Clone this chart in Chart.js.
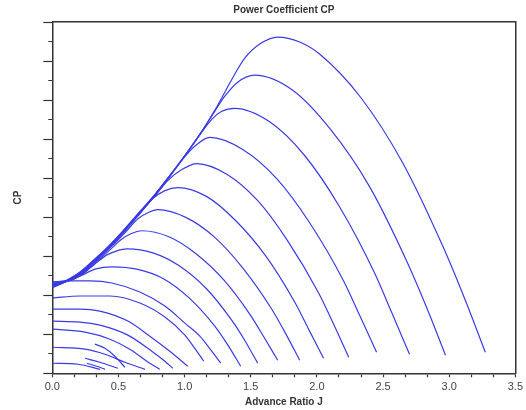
<!DOCTYPE html>
<html>
<head>
<meta charset="utf-8">
<script src="https://cdn.jsdelivr.net/npm/chart.js@4.4.1/dist/chart.umd.min.js"></script>
<style>
  body { margin: 0; background: #fff; }
  #wrap { width: 526px; height: 410px; }
</style>
</head>
<body>
<div id="wrap"><canvas id="cpChart" width="526" height="410"></canvas></div>
<script>
// Power coefficient CP against advance ratio J, one curve per blade setting ([J, CP] pairs)
const curve01 = [[0, 0.0129], [0.194, 0.0116], [0.36, 0.0051]];
const curve02 = [[0.262, 0.0129], [0.337, 0.009], [0.398, 0.0051]];
const curve03 = [[0.247, 0.0193], [0.36, 0.0141], [0.496, 0.0064]];
const curve04 = [[0.322, 0.0373], [0.398, 0.0321], [0.473, 0.0219], [0.549, 0.0077]];
const curve05 = [[0, 0.0334], [0.247, 0.0309], [0.398, 0.0244], [0.549, 0.0141], [0.7, 0.0051]];
const curve06 = [[0, 0.0566], [0.247, 0.0527], [0.436, 0.0437], [0.586, 0.0309], [0.737, 0.0129], [0.813, 0.0051]];
const curve07 = [[0, 0.0669], [0.209, 0.0656], [0.36, 0.0617], [0.571, 0.0489], [0.752, 0.0283], [0.851, 0.0154], [0.911, 0.0064]];
const curve08 = [[0, 0.0823], [0.209, 0.0823], [0.36, 0.0797], [0.571, 0.0669], [0.737, 0.0476], [0.888, 0.0283], [1.024, 0.009]];
const curve09 = [[0, 0.0964], [0.209, 0.099], [0.436, 0.099], [0.662, 0.09], [0.851, 0.072], [1.002, 0.0489], [1.092, 0.0283], [1.145, 0.0154]];
const curve10 = [[0, 0.117], [0.134, 0.1183], [0.285, 0.1183], [0.451, 0.1157], [0.662, 0.1041], [0.851, 0.0861], [1.002, 0.0643], [1.115, 0.0476], [1.205, 0.0283], [1.273, 0.0129]];
const curve11 = [[0, 0.117], [0.096, 0.1183], [0.209, 0.1247], [0.33, 0.1337], [0.451, 0.1363], [0.647, 0.1331], [0.843, 0.1209], [1.032, 0.0969], [1.228, 0.0604], [1.326, 0.0364], [1.424, 0.009]];
const curve12 = [[0, 0.1157], [0.096, 0.117], [0.209, 0.1247], [0.322, 0.1401], [0.413, 0.1517], [0.488, 0.1569], [0.564, 0.1594], [0.76, 0.1543], [0.956, 0.1381], [1.16, 0.1093], [1.356, 0.0681], [1.454, 0.0424], [1.553, 0.0129]];
const curve13 = [[0, 0.1144], [0.096, 0.117], [0.209, 0.1247], [0.322, 0.1414], [0.436, 0.1581], [0.519, 0.171], [0.594, 0.1787], [0.677, 0.1826], [0.881, 0.1749], [1.084, 0.1535], [1.296, 0.1196], [1.5, 0.0739], [1.598, 0.0468], [1.704, 0.0167]];
const curve14 = [[0, 0.1144], [0.096, 0.117], [0.209, 0.126], [0.322, 0.1427], [0.436, 0.1607], [0.549, 0.18], [0.647, 0.198], [0.722, 0.2057], [0.798, 0.2096], [1.009, 0.1997], [1.228, 0.1741], [1.439, 0.135], [1.658, 0.0823], [1.764, 0.0508], [1.87, 0.0167]];
const curve15 = [[0, 0.1131], [0.096, 0.117], [0.209, 0.1273], [0.322, 0.144], [0.436, 0.162], [0.549, 0.1826], [0.662, 0.2044], [0.76, 0.2237], [0.851, 0.234], [0.949, 0.2379], [1.168, 0.2263], [1.387, 0.1954], [1.613, 0.1504], [1.832, 0.0913], [1.937, 0.0566], [2.05, 0.0193]];
const curve16 = [[0, 0.1119], [0.096, 0.117], [0.209, 0.1273], [0.322, 0.1446], [0.436, 0.1626], [0.549, 0.1832], [0.662, 0.205], [0.775, 0.2269], [0.873, 0.2469], [0.979, 0.261], [1.092, 0.2687], [1.319, 0.2551], [1.553, 0.2211], [1.779, 0.1697], [2.013, 0.1029], [2.126, 0.063], [2.24, 0.0206]];
const curve17 = [[0, 0.1119], [0.096, 0.117], [0.209, 0.1286], [0.322, 0.1453], [0.436, 0.1633], [0.549, 0.1838], [0.662, 0.2057], [0.775, 0.2276], [0.888, 0.252], [1.002, 0.2777], [1.092, 0.2931], [1.19, 0.3021], [1.439, 0.2867], [1.696, 0.2494], [1.945, 0.1929], [2.202, 0.1183], [2.322, 0.0746], [2.451, 0.027]];
const curve18 = [[0, 0.1106], [0.096, 0.117], [0.209, 0.1292], [0.322, 0.1459], [0.436, 0.1639], [0.549, 0.1845], [0.662, 0.2063], [0.775, 0.2282], [0.888, 0.2526], [1.002, 0.2784], [1.115, 0.3054], [1.205, 0.3253], [1.281, 0.3356], [1.379, 0.3394], [1.643, 0.3221], [1.907, 0.279], [2.171, 0.2134], [2.436, 0.1286], [2.564, 0.0784], [2.7, 0.0244]];
const curve19 = [[0, 0.1106], [0.096, 0.1183], [0.209, 0.1299], [0.322, 0.1466], [0.436, 0.1646], [0.549, 0.1851], [0.662, 0.207], [0.775, 0.2289], [0.888, 0.2533], [1.002, 0.279], [1.115, 0.306], [1.228, 0.3356], [1.304, 0.3549], [1.401, 0.3729], [1.53, 0.3819], [1.817, 0.3626], [2.103, 0.3124], [2.398, 0.2391], [2.685, 0.1414], [2.828, 0.0849], [2.972, 0.0231]];
const curve20 = [[0, 0.1093], [0.096, 0.117], [0.209, 0.1286], [0.322, 0.1453], [0.436, 0.1646], [0.549, 0.1851], [0.662, 0.207], [0.775, 0.2289], [0.888, 0.2533], [1.002, 0.279], [1.115, 0.306], [1.228, 0.3369], [1.304, 0.36], [1.379, 0.3831], [1.455, 0.4037], [1.568, 0.4217], [1.704, 0.4307], [1.87, 0.4243], [2.02, 0.4089], [2.33, 0.3536], [2.647, 0.27], [2.957, 0.1607], [3.115, 0.0964], [3.273, 0.027]];

const allCurves = [curve01, curve02, curve03, curve04, curve05, curve06, curve07, curve08, curve09, curve10,
    curve11, curve12, curve13, curve14, curve15, curve16, curve17, curve18, curve19, curve20];

const xTickLabels = ['0.0', '0.5', '1.0', '1.5', '2.0', '2.5', '3.0', '3.5'];

const lineColor = '#3b3be3';
const axisColor = '#333333';

Chart.defaults.font.family = "'Liberation Sans', Arial, sans-serif";

function isMultiple(value, step) {
    const k = value / step;
    return Math.abs(k - Math.round(k)) < 1e-6;
}

function xLabel(value) {
    if (!isMultiple(value, 0.5)) return '';
    return xTickLabels[Math.round(value / 0.5)];
}

const datasets = allCurves.map(function (curve, i) {
    return {
        label: 'curve ' + (i + 1),
        data: curve.map(p => ({ x: p[0], y: p[1] })),
        showLine: true,
        borderColor: lineColor,
        borderWidth: 1.2,
        pointRadius: 0,
        fill: false,
        cubicInterpolationMode: 'monotone'
    };
});

new Chart(document.getElementById('cpChart'), {
    type: 'scatter',
    data: { datasets: datasets },
    options: {
        responsive: false,
        animation: false,
        devicePixelRatio: 1,
        layout: { padding: { left: 4, right: 2, top: 0, bottom: 0 } },
        plugins: {
            legend: { display: false },
            tooltip: { enabled: false },
            title: {
                display: true,
                text: 'Power Coefficient CP',
                color: axisColor,
                fullSize: false,
                font: { size: 10, weight: 'bold' },
                padding: { top: 4, bottom: -2 }
            }
        },
        scales: {
            x: {
                type: 'linear',
                position: 'bottom',
                min: 0,
                max: 3.5,
                ticks: {
                    stepSize: 1 / 6,
                    autoSkip: false,
                    maxRotation: 0,
                    minRotation: 0,
                    padding: 3,
                    color: '#444',
                    font: { size: 11 },
                    callback: xLabel
                },
                grid: {
                    drawOnChartArea: false,
                    drawTicks: true,
                    tickLength: 4,
                    tickColor: axisColor,
                    tickWidth: 1.2
                },
                border: { display: true, color: axisColor, width: 1.5 },
                title: {
                    display: true,
                    text: 'Advance Ratio J',
                    color: axisColor,
                    font: { size: 10, weight: 'bold' },
                    padding: { top: 0, bottom: 1.5 }
                }
            },
            y: {
                type: 'linear',
                position: 'left',
                min: 0,
                max: 0.45,
                ticks: {
                    stepSize: 0.025,
                    display: false,
                    autoSkip: false
                },
                grid: {
                    drawOnChartArea: false,
                    drawTicks: true,
                    tickLength: 9,
                    tickColor: axisColor,
                    tickWidth: 1.2,
                    tickBorderDash: ctx => (ctx.tick && !isMultiple(ctx.tick.value, 0.05)) ? [0, 5, 10] : []
                },
                border: { display: true, color: axisColor, width: 1.5 },
                title: {
                    display: true,
                    text: 'CP',
                    color: axisColor,
                    font: { size: 10, weight: 'bold' },
                    padding: { top: 8, bottom: 19.3 }
                }
            },
            xTop: {
                type: 'linear',
                position: 'top',
                ticks: { display: false },
                grid: { display: false },
                border: { display: true, color: axisColor, width: 1.5 }
            },
            yRight: {
                type: 'linear',
                position: 'right',
                ticks: { display: false },
                grid: { display: false },
                border: { display: true, color: axisColor, width: 1.5 }
            }
        }
    }
});
</script>
</body>
</html>
